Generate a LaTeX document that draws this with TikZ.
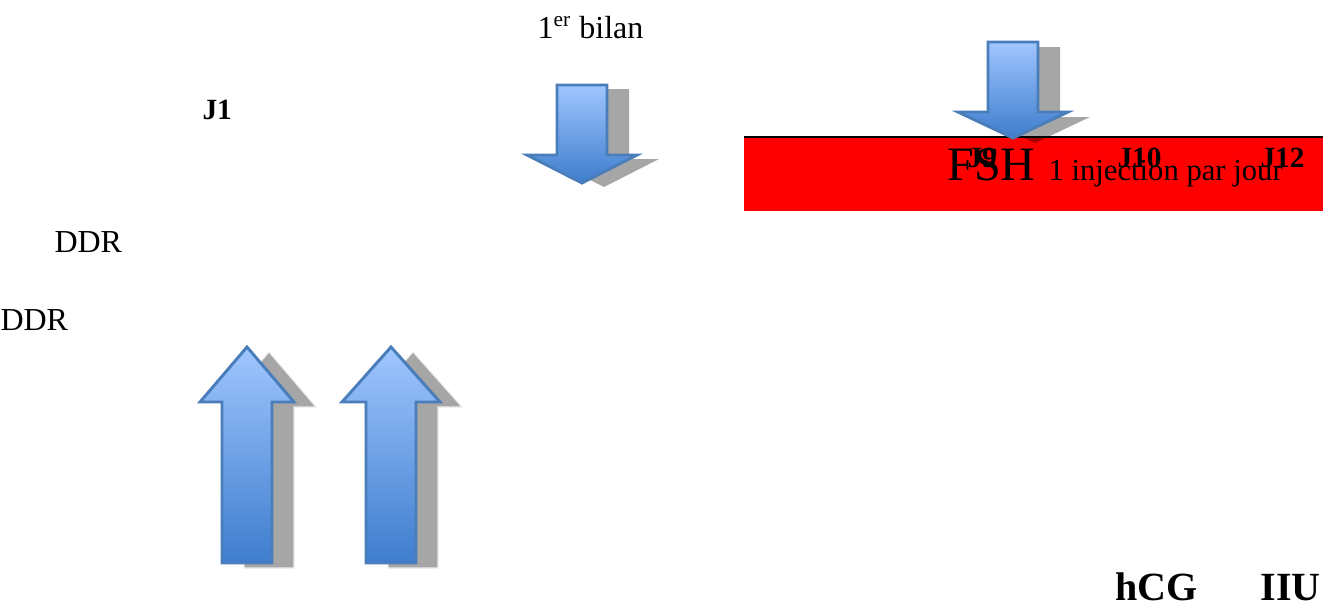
\documentclass[tikz,border=0pt]{standalone}
\usepackage{fontspec}
\setmainfont{Liberation Serif}
\definecolor{arrowline}{RGB}{74,126,187}
\definecolor{arrowtop}{RGB}{160,198,255}
\definecolor{arrowbot}{RGB}{62,125,205}
\definecolor{fshred}{RGB}{255,0,0}
% block arrows: centre x, tip y, head-base y, tail y, head half-width
\newcommand\uparrowshape[5]{(#1-25,#4) -- (#1-25,#3) -- (#1-#5,#3) -- (#1,#2) -- (#1+#5,#3) -- (#1+25,#3) -- (#1+25,#4) -- cycle}
\newcommand\downarrowshape[5]{(#1-25,#4) -- (#1-25,#3) -- (#1-#5,#3) -- (#1,#2) -- (#1+#5,#3) -- (#1+25,#3) -- (#1+25,#4) -- cycle}
\begin{document}
\begin{tikzpicture}[x=0.375pt,y=-0.375pt,
  arrowbody/.style={top color=arrowtop,bottom color=arrowbot,draw=arrowline,line width=1.1pt,line join=miter},
  arrowshadow/.style={fill=black,fill opacity=0.35},
  shadowedge/.style={draw=white!85!gray,line width=0.4pt},
  lbl/.style={anchor=base west,inner sep=0pt,font=\fontsize{12}{14}\selectfont},
  daylbl/.style={anchor=base west,inner sep=0pt,font=\fontsize{11}{13}\selectfont\bfseries},
  biglbl/.style={anchor=base west,inner sep=0pt,font=\fontsize{18}{21}\selectfont},
  injlbl/.style={anchor=base west,inner sep=0pt,font=\fontsize{11.5}{13}\selectfont},
  hormlbl/.style={anchor=base west,inner sep=0pt,font=\fontsize{15}{18}\selectfont\bfseries}]
\useasboundingbox (0,0) rectangle (1323,605);
\clip (0,0) rectangle (1323,605);

% FSH treatment band
\fill[fshred] (744,136) rectangle (1323,211);
\draw[line width=0.75pt] (744,137) -- (1323,137);

% first check-up arrow
\fill[arrowshadow,shift={(22,4)}] \downarrowshape{582}{183}{155}{85}{55};
\path[arrowbody] \downarrowshape{582}{183}{155}{85}{55};

% FSH start arrow
\fill[arrowshadow,shift={(22,5)}] \downarrowshape{1013}{138}{112}{42}{55};
\path[arrowbody] \downarrowshape{1013}{138}{112}{42}{55};

% up arrows
\path[arrowshadow,shadowedge,shift={(22,5)}] \uparrowshape{247}{347}{402}{563}{47};
\path[arrowbody] \uparrowshape{247}{347}{402}{563}{47};
\path[arrowshadow,shadowedge,shift={(22,5)}] \uparrowshape{391}{347}{402}{563}{49};
\path[arrowbody] \uparrowshape{391}{347}{402}{563}{49};

% labels
\node[lbl] (bilan) at (537,38) {1\textsuperscript{er} bilan};
\node[daylbl] (j1) at (202,119) {J1};
\node[lbl] (ddrA) at (54,252) {DDR};
\node[lbl] (ddrB) at (0,330) {DDR};
\node[biglbl] (fsh) at (947,180) {FSH};
\node[injlbl] (inj) at (1048,180) {1 injection par jour};
\node[daylbl] (j9) at (967,167) {J9};
\node[daylbl] (j10) at (1117,167) {J10};
\node[daylbl] (j12) at (1260,167) {J12};
\node[hormlbl] (hcg) at (1115,600) {hCG};
\node[hormlbl] (iiu) at (1260,600) {IIU};
\end{tikzpicture}
\end{document}
